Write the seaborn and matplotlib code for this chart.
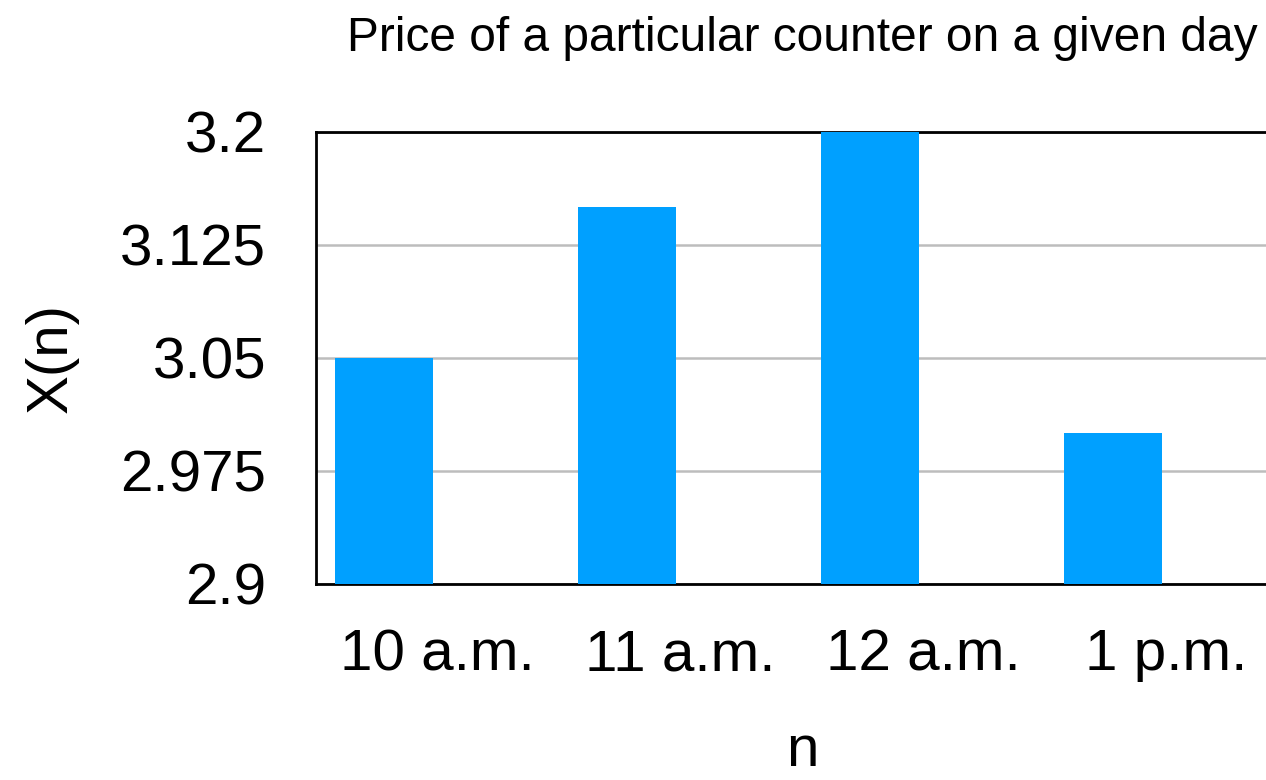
import matplotlib
matplotlib.use("Agg")
import matplotlib.pyplot as plt
import seaborn as sns
import pandas as pd

# Hourly price of the counter
times = ["10 a.m.", "11 a.m.", "12 a.m.", "1 p.m."]
prices = [3.05, 3.15, 3.2, 3.0]
y_ticks = [2.9, 2.975, 3.05, 3.125, 3.2]
y_tick_labels = ["2.9", "2.975", "3.05", "3.125", "3.2"]

df = pd.DataFrame({"time": times, "price": prices, "series": "X(n)"})

sns.set_theme(style="white")
plt.rcParams["font.family"] = ["Liberation Sans", "DejaVu Sans"]

fig = plt.figure(figsize=(12.66, 7.8), dpi=100)
ax = fig.add_axes([0.2496, 0.2513, 0.7678, 0.5795])

sns.barplot(
    data=df, x="time", y="price", hue="series",
    hue_order=["X(n)", "_spare"], order=times,
    palette=["#00A0FF", "#00A0FF"], dodge=True, width=0.88, gap=0.09,
    saturation=1, legend=False, ax=ax, zorder=3, linewidth=0,
)

ax.set_ylim(2.9, 3.2)
ax.set_xlim(-0.5, 3.5)
ax.set_yticks(y_ticks)
ax.set_yticklabels(y_tick_labels)
ax.yaxis.grid(True, color="#bdbdbd", linewidth=1.8, zorder=0)
ax.set_axisbelow(True)
ax.tick_params(axis="both", length=0, labelsize=42, colors="black")
ax.tick_params(axis="y", pad=36)
ax.tick_params(axis="x", pad=32)

for side in ["left", "top", "bottom", "right"]:
    ax.spines[side].set_visible(True)
    ax.spines[side].set_color("black")
    ax.spines[side].set_linewidth(2)

ax.set_xlabel("n", fontsize=42, labelpad=30, color="black")
ax.set_ylabel("X(n)", fontsize=42, labelpad=30, color="black")
ax.set_title("Price of a particular counter on a given day",
             fontsize=34.5, pad=58, color="black")

fig.savefig("out.png", dpi=100)
